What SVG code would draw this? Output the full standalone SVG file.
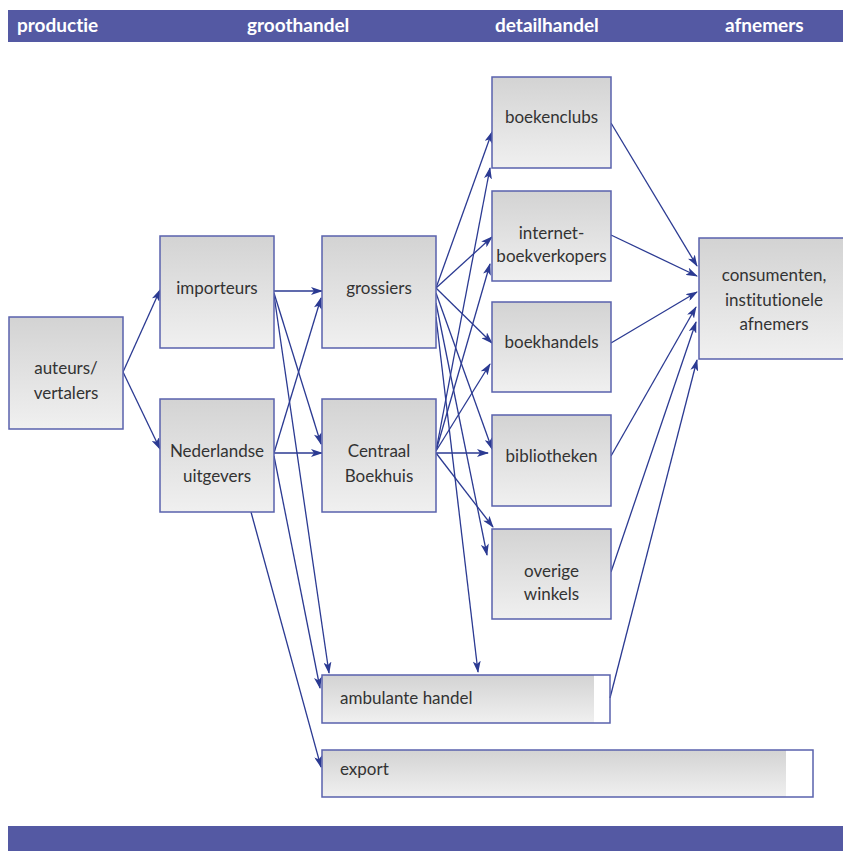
<svg xmlns="http://www.w3.org/2000/svg" width="843" height="851" viewBox="0 0 843 851">
<defs>
<linearGradient id="g" x1="0" y1="0" x2="0" y2="1">
<stop offset="0" stop-color="#d3d3d3"/>
<stop offset="1" stop-color="#f0f0f0"/>
</linearGradient>
<marker id="a" viewBox="0 0 12 8" refX="11" refY="4" markerWidth="12" markerHeight="8" markerUnits="userSpaceOnUse" orient="auto">
<path d="M0,0 L12,4 L0,8 L3,4 z" fill="#2b3a92"/>
</marker>
<style>
.box{fill:url(#g);stroke:#5962ad;stroke-width:1.5}
.fr{fill:none;stroke:#5962ad;stroke-width:1.5}
text{font-variant-ligatures:none}
.t{font-family:Lato,"Liberation Sans",sans-serif;font-size:17px;fill:#333;text-anchor:middle}
.tl{font-family:Lato,"Liberation Sans",sans-serif;font-size:17px;fill:#333}
.h{font-family:Lato,"Liberation Sans",sans-serif;font-size:19px;font-weight:bold;fill:#fff}
.c path{fill:none;stroke:#2b3a92;stroke-width:1.3;marker-end:url(#a)}
</style>
</defs>
<rect width="843" height="851" fill="#fff"/>
<g id="header">
<rect x="8" y="10" width="835" height="32" fill="#5459a3"/>
<text class="h" x="17" y="32">productie</text>
<text class="h" x="247" y="32">groothandel</text>
<text class="h" x="495" y="32">detailhandel</text>
<text class="h" x="725" y="32">afnemers</text>
</g>
<rect id="footer" x="8" y="826" width="835" height="25" fill="#5459a3"/>
<g id="connectors" class="c">
<path d="M123,372 L160,290"/>
<path d="M123,372 L160,449"/>
<path d="M274,291 L322,291"/>
<path d="M274,293 L321,444"/>
<path d="M274,295 L329,673"/>
<path d="M274,453 L322,453"/>
<path d="M274,453 L321,298"/>
<path d="M274,456 L320,688"/>
<path d="M251,512 L321,767"/>
<path d="M436,288 L492,132"/>
<path d="M436,288 L492,237"/>
<path d="M436,288 L492,343"/>
<path d="M436,293 L492,449"/>
<path d="M436,303 L487,555"/>
<path d="M436,317 L478,672"/>
<path d="M436,451 L490,168"/>
<path d="M436,451 L490,264"/>
<path d="M436,451 L490,364"/>
<path d="M436,453 L488,453"/>
<path d="M436,453 L493,527"/>
<path d="M611,123 L697,266"/>
<path d="M611,235 L697,276"/>
<path d="M611,343 L697,292"/>
<path d="M611,456 L696,307"/>
<path d="M611,572 L696,322"/>
<path d="M610,698 L697,360"/>
</g>
<g id="auteurs"><rect class="box" x="9" y="317" width="114" height="112"/><text class="t" x="66" y="374">auteurs/</text><text class="t" x="66" y="399">vertalers</text></g>
<g id="importeurs"><rect class="box" x="160" y="236" width="114" height="112"/><text class="t" x="217" y="294">importeurs</text></g>
<g id="uitgevers"><rect class="box" x="160" y="399" width="114" height="113"/><text class="t" x="217" y="457">Nederlandse</text><text class="t" x="217" y="482">uitgevers</text></g>
<g id="grossiers"><rect class="box" x="322" y="236" width="114" height="112"/><text class="t" x="379" y="294">grossiers</text></g>
<g id="centraal"><rect class="box" x="322" y="399" width="114" height="113"/><text class="t" x="379" y="457">Centraal</text><text class="t" x="379" y="482">Boekhuis</text></g>
<g id="boekenclubs"><rect class="box" x="492" y="77" width="119" height="91"/><text class="t" x="551.5" y="123">boekenclubs</text></g>
<g id="internet"><rect class="box" x="492" y="191" width="119" height="90"/><text class="t" x="551.5" y="239">internet-</text><text class="t" x="551.5" y="262">boekverkopers</text></g>
<g id="boekhandels"><rect class="box" x="492" y="302" width="119" height="90"/><text class="t" x="551.5" y="348">boekhandels</text></g>
<g id="bibliotheken"><rect class="box" x="492" y="415" width="119" height="91"/><text class="t" x="551.5" y="462">bibliotheken</text></g>
<g id="overige"><rect class="box" x="492" y="529" width="119" height="90"/><text class="t" x="551.5" y="577">overige</text><text class="t" x="551.5" y="600">winkels</text></g>
<g id="consumenten"><rect class="box" x="699" y="238" width="150" height="121"/><text class="t" x="774" y="281">consumenten,</text><text class="t" x="774" y="306">institutionele</text><text class="t" x="774" y="330">afnemers</text></g>
<g id="ambulante"><rect x="322" y="675" width="272" height="48" fill="url(#g)"/><rect class="fr" x="322" y="675" width="288" height="48"/><text class="tl" x="340" y="704">ambulante handel</text></g>
<g id="export"><rect x="322" y="750" width="464" height="47" fill="url(#g)"/><rect class="fr" x="322" y="750" width="491" height="47"/><text class="tl" x="340" y="775">export</text></g>
</svg>
